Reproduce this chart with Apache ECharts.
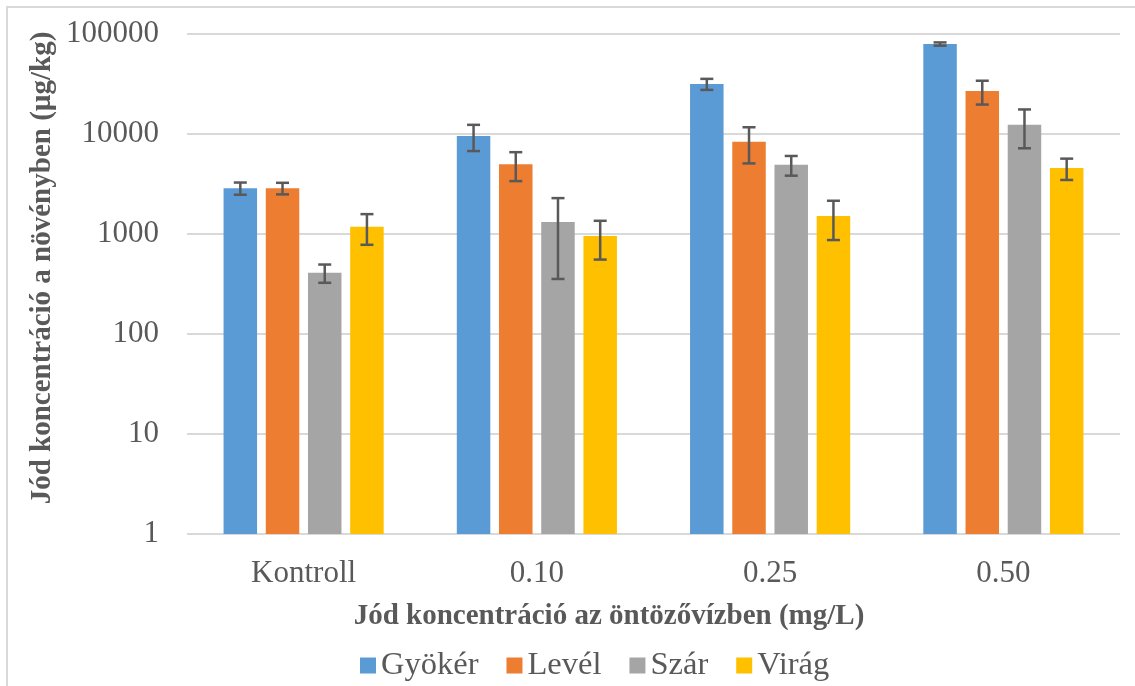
<!DOCTYPE html>
<html>
<head>
<meta charset="utf-8">
<script src="https://cdn.jsdelivr.net/npm/echarts@6/dist/echarts.min.js"></script>
<style>
  html, body { margin: 0; padding: 0; background: #ffffff; }
  #chart { width: 1135px; height: 686px; }
</style>
</head>
<body>
<div id="chart"></div>
<script>
// Iodine concentration in plant organs by irrigation-water iodine level
const categories = ['Kontroll', '0.10', '0.25', '0.50'];
const seriesNames = ['Gyökér', 'Levél', 'Szár', 'Virág'];

const gyoker = [2870, 9550, 31600, 79400];
const level  = [2870, 4980, 8380, 26900];
const szar   = [410, 1320, 4930, 12400];
const virag  = [1180, 955, 1510, 4570];

// standard deviations (symmetric error bars)
const gyokerErr = [400, 2800, 4000, 3000];
const levelErr  = [380, 1600, 3300, 7200];
const szarErr   = [85, 965, 1100, 5200];
const viragErr  = [400, 400, 640, 1100];

const yTicks = [1, 10, 100, 1000, 10000, 100000];

const colors = ['#5b9bd5', '#ed7d31', '#a5a5a5', '#ffc000'];
const textColor = '#595959';
const serif = '"Liberation Serif", "Times New Roman", serif';

const values = [gyoker, level, szar, virag];
const errors = [gyokerErr, levelErr, szarErr, viragErr];

const BAR_W = 33.5;
const BAR_GAP = 0.26;
const N = seriesNames.length;

const chart = echarts.init(document.getElementById('chart'), null, { renderer: 'canvas' });

const barSeries = seriesNames.map((name, k) => ({
  name,
  type: 'bar',
  data: values[k],
  barWidth: BAR_W,
  barGap: (BAR_GAP * 100) + '%',
  itemStyle: { color: colors[k] },
  z: 2
}));

// error bar data: [category index, low, high, series index]
const errData = [];
for (let k = 0; k < N; k++) {
  for (let c = 0; c < categories.length; c++) {
    errData.push([c, values[k][c] - errors[k][c], values[k][c] + errors[k][c], k]);
  }
}

const errorSeries = {
  type: 'custom',
  name: 'err',
  data: errData,
  z: 5,
  silent: true,
  renderItem(params, api) {
    const c = api.value(0), lo = api.value(1), hi = api.value(2), k = api.value(3);
    const total = N * BAR_W + (N - 1) * BAR_W * BAR_GAP;
    const dx = -total / 2 + k * BAR_W * (1 + BAR_GAP) + BAR_W / 2;
    const pHi = api.coord([c, hi]);
    const pLo = api.coord([c, lo]);
    const x = pHi[0] + dx;
    const cap = 6.5;
    const style = { stroke: '#595959', lineWidth: 2.5 };
    return {
      type: 'group',
      children: [
        { type: 'line', shape: { x1: x, y1: pHi[1], x2: x, y2: pLo[1] }, style },
        { type: 'line', shape: { x1: x - cap, y1: pHi[1], x2: x + cap, y2: pHi[1] }, style },
        { type: 'line', shape: { x1: x - cap, y1: pLo[1], x2: x + cap, y2: pLo[1] }, style }
      ]
    };
  }
};

chart.setOption({
  backgroundColor: '#ffffff',
  animation: false,
  color: colors,
  grid: { left: 187, right: 15, top: 34, bottom: 152, containLabel: false },
  legend: {
    data: seriesNames,
    left: 355,
    top: 644,
    icon: 'rect',
    itemWidth: 16,
    itemHeight: 16,
    itemGap: 28,
    textStyle: { fontFamily: serif, fontSize: 32.5, color: textColor }
  },
  xAxis: {
    type: 'category',
    data: categories,
    axisLine: { show: false },
    axisTick: { show: false },
    axisLabel: { fontFamily: serif, fontSize: 31, color: textColor, margin: 24 }
  },
  yAxis: {
    type: 'log',
    logBase: 10,
    min: yTicks[0],
    max: yTicks[yTicks.length - 1],
    axisLine: { show: false },
    axisTick: { show: false },
    splitLine: { show: true, lineStyle: { color: '#d9d9d9', width: 2 } },
    axisLabel: {
      fontFamily: serif, fontSize: 31, color: textColor, margin: 28,
      formatter: v => String(Math.round(v))
    }
  },
  graphic: [
    {
      type: 'rect',
      shape: { x: 7, y: 7, width: 1140, height: 700 },
      style: { fill: 'none', stroke: '#d9d9d9', lineWidth: 2 },
      silent: true
    },
    {
      type: 'text',
      x: 609, y: 617,
      style: {
        text: 'Jód koncentráció az öntözővízben (mg/L)',
        font: 'bold 29px ' + serif,
        fill: textColor,
        textAlign: 'center',
        textVerticalAlign: 'middle'
      }
    },
    {
      type: 'text',
      x: 43, y: 268,
      rotation: Math.PI / 2,
      style: {
        text: 'Jód koncentráció a növényben (µg/kg)',
        font: 'bold 29px ' + serif,
        fill: textColor,
        textAlign: 'center',
        textVerticalAlign: 'middle'
      }
    }
  ],
  series: [...barSeries, errorSeries]
});
</script>
</body>
</html>
